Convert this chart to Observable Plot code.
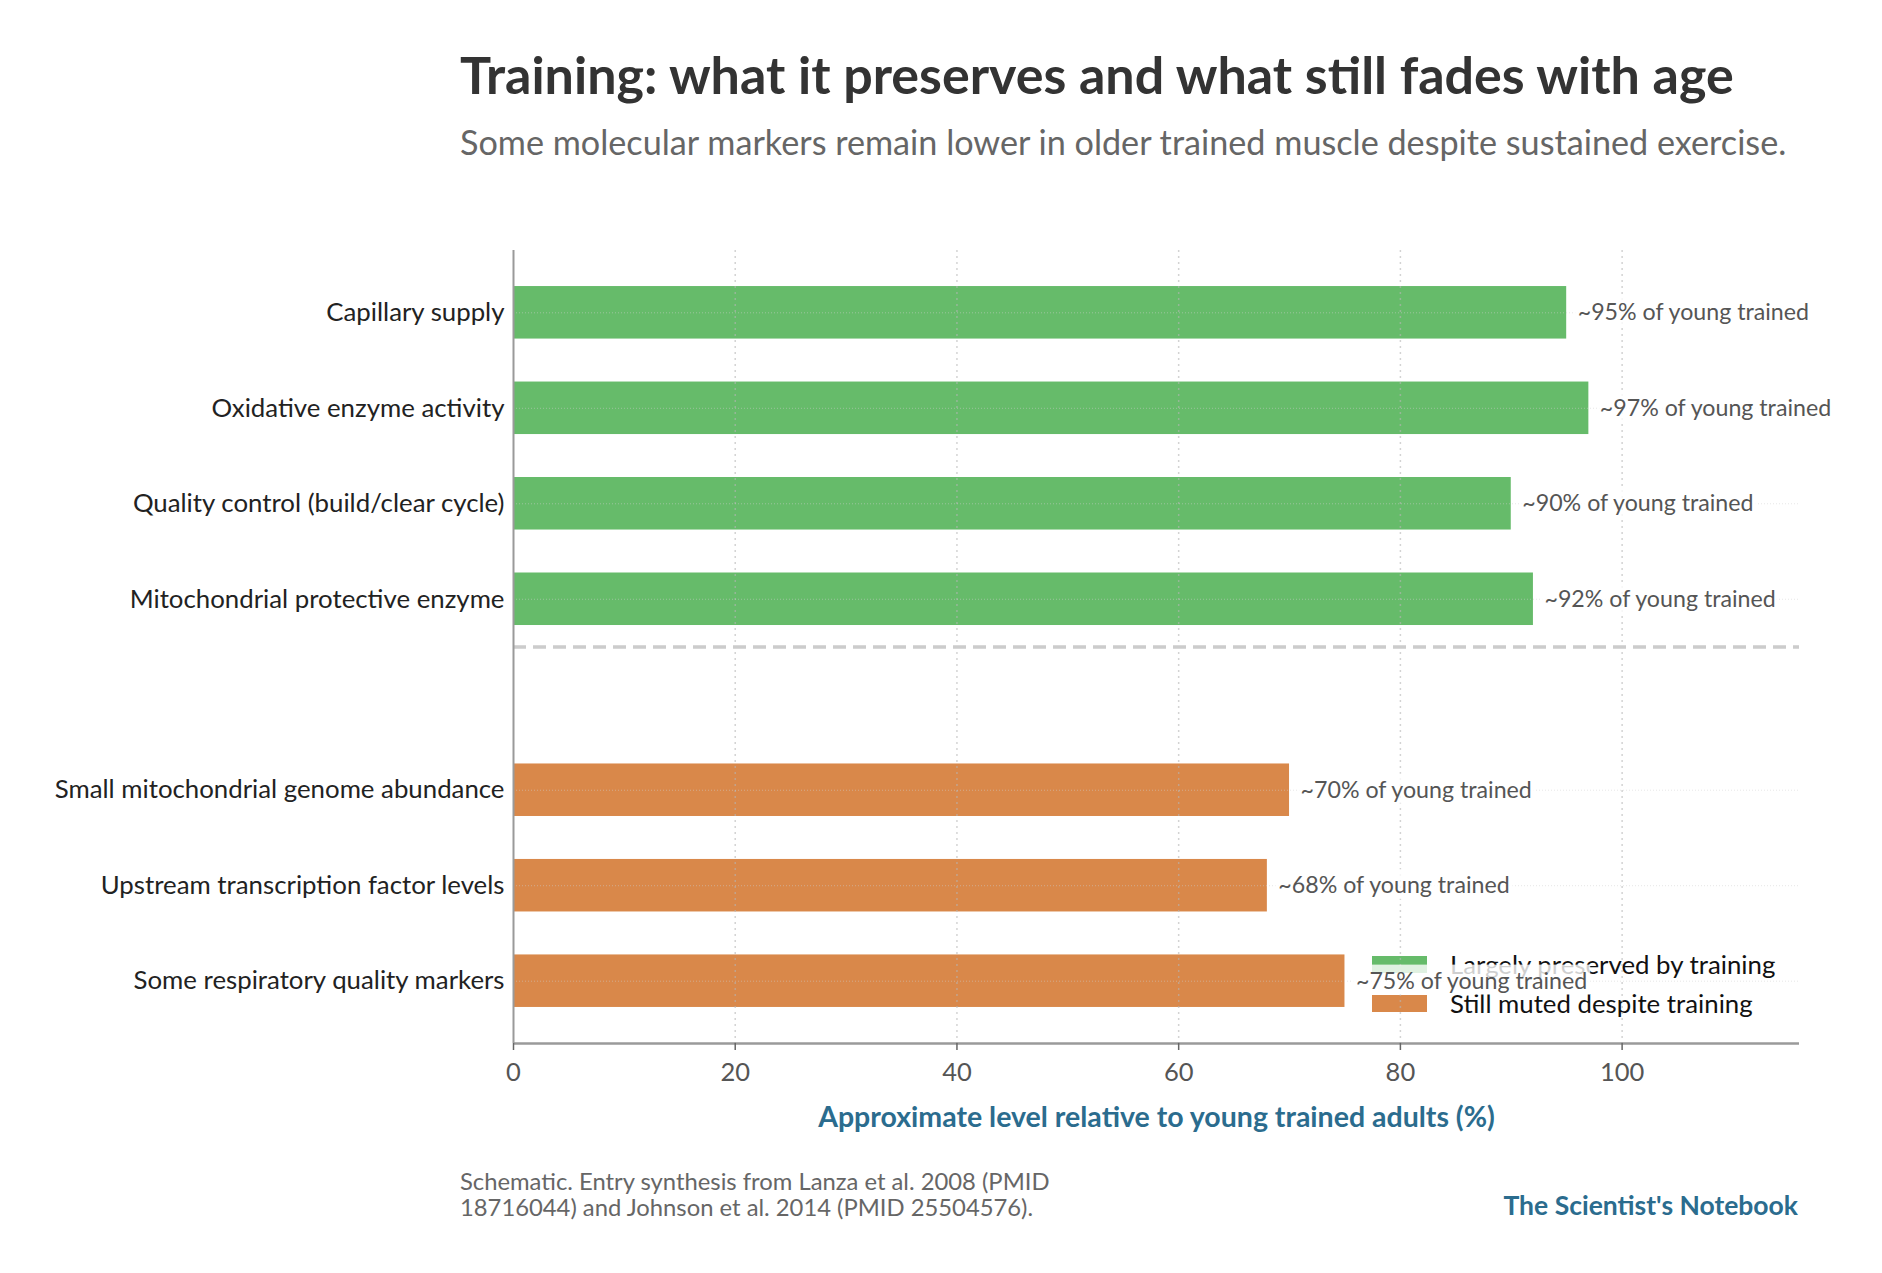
<!DOCTYPE html>
<html>
<head>
<meta charset="utf-8">
<script src="https://cdn.jsdelivr.net/npm/d3@7"></script>
<script src="https://cdn.jsdelivr.net/npm/@observablehq/plot@0.6"></script>
<style>
  html, body { margin: 0; padding: 0; background: #fff; }
  #wrap { position: relative; width: 1882px; height: 1273px; font-family: Lato, "Open Sans", sans-serif; overflow: hidden; }
  .abs { position: absolute; white-space: nowrap; line-height: 1; }
  #title { left: 460px; top: 48px; font-size: 52px; font-weight: bold; color: #333; }
  #subtitle { left: 460px; top: 125px; font-size: 34.2px; color: #666; }
  #chart { position: absolute; left: 0; top: 200px; z-index: 1; }
  #legend { position: absolute; left: 1372px; top: 956px; z-index: 0; }
  .lg-row { display: flex; align-items: center; height: 17px; margin-bottom: 22px; }
  .lg-sw { width: 55px; height: 17px; margin-right: 23px; flex: none; }
  .lg-tx { font-size: 25.8px; color: #111; line-height: 1; white-space: nowrap; }
  .cap { left: 460px; font-size: 23.8px; color: #666; }
  #cap1 { top: 1170px; }
  #cap2 { top: 1196px; }
  #brand { right: 84px; top: 1191.5px; font-size: 26.5px; font-weight: bold; color: #2b6c8e; }
</style>
</head>
<body>
<div id="wrap">
  <div id="title" class="abs">Training: what it preserves and what still fades with age</div>
  <div id="subtitle" class="abs">Some molecular markers remain lower in older trained muscle despite sustained exercise.</div>
  <div id="legend"></div>
  <div id="chart"></div>
  <div id="cap1" class="abs cap">Schematic. Entry synthesis from Lanza et al. 2008 (PMID</div>
  <div id="cap2" class="abs cap">18716044) and Johnson et al. 2014 (PMID 25504576).</div>
  <div id="brand" class="abs">The Scientist's Notebook</div>
</div>
<script>
// ---- data ----
const preservedLabels = [
  "Capillary supply",
  "Oxidative enzyme activity",
  "Quality control (build/clear cycle)",
  "Mitochondrial protective enzyme"
];
const preservedValues = [95, 97, 90, 92];
const mutedLabels = [
  "Small mitochondrial genome abundance",
  "Upstream transcription factor levels",
  "Some respiratory quality markers"
];
const mutedValues = [70, 68, 75];
const groupNames = ["Largely preserved by training", "Still muted despite training"];
const groupColors = ["#66bb6a", "#d9884a"];
const xTicks = [0, 20, 40, 60, 80, 100];
const xMax = 116;
const xLabel = "Approximate level relative to young trained adults (%)";
const labelSuffix = "% of young trained";

// ---- derived table ----
const rows = [
  ...preservedLabels.map((label, i) => ({label, value: preservedValues[i], group: groupNames[0], pos: i})),
  ...mutedLabels.map((label, i) => ({label, value: mutedValues[i], group: groupNames[1], pos: preservedLabels.length + 1 + i}))
];
const barHalf = 0.275;
const yLo = -barHalf, yHi = d3.max(rows, d => d.pos) + barHalf;
const yPad = 0.05 * (yHi - yLo);
const yDomain = [yLo - yPad, yHi + yPad];
const separator = preservedLabels.length - 0.5;

const chart = Plot.plot({
  width: 1882,
  height: 960,
  marginTop: 50,
  marginBottom: 117,
  marginLeft: 513,
  marginRight: 83,
  style: {background: "transparent", fontFamily: "Lato, sans-serif", overflow: "visible"},
  x: {domain: [0, xMax]},
  y: {domain: yDomain, reverse: true},
  color: {domain: groupNames, range: groupColors},
  marks: [
    Plot.rectX(rows, {x1: 0, x2: "value", y1: d => d.pos - barHalf, y2: d => d.pos + barHalf, fill: "group"}),
    Plot.gridX(xTicks.slice(1), {stroke: "#b5b5b5", strokeOpacity: 0.6, strokeWidth: 1.5, strokeDasharray: "2,4"}),
    Plot.ruleY(rows, {y: "pos", stroke: "#cfcfcf", strokeOpacity: 0.5, strokeWidth: 1, strokeDasharray: "1,2"}),
    Plot.ruleY([separator], {stroke: "#cccccc", strokeWidth: 3.5, strokeDasharray: "13,7"}),
    Plot.ruleX([0], {stroke: "#9a9a9a", strokeWidth: 2}),
    Plot.ruleY([yDomain[1]], {stroke: "#9a9a9a", strokeWidth: 2.3}),
    Plot.axisX(xTicks, {tickSize: 7, tickPadding: 12, fontSize: 25.5, fill: "#555", stroke: "#666", strokeWidth: 1.5, label: null, tickFormat: d => String(d)}),
    Plot.axisY(rows.map(d => d.pos), {tickSize: 0, tickPadding: 9, fontSize: 25.8, fill: "#222", label: null,
      tickFormat: p => (rows.find(r => r.pos === p) || {}).label}),
    Plot.text([xLabel], {frameAnchor: "bottom", dy: 83, lineAnchor: "bottom", fontSize: 28.5, fontWeight: "bold", fill: "#2b6c8e"}),
    Plot.text(rows, {x: "value", y: "pos", text: d => `~${d.value}${labelSuffix}`, dx: 11, textAnchor: "start", fontSize: 23.2, fill: "#555"})
  ]
});
document.getElementById("chart").append(chart);

// white semi-transparent boxes behind the value labels
const svgns = "http://www.w3.org/2000/svg";
chart.querySelectorAll("text").forEach(t => {
  if (!t.textContent.endsWith(labelSuffix)) return;
  const b = t.getBBox();
  const r = document.createElementNS(svgns, "rect");
  r.setAttribute("x", b.x - 3);
  r.setAttribute("y", b.y - 1);
  r.setAttribute("width", b.width + 6);
  r.setAttribute("height", b.height + 2);
  r.setAttribute("fill", "white");
  r.setAttribute("fill-opacity", "0.8");
  const tr = t.getAttribute("transform");
  if (tr) r.setAttribute("transform", tr);
  t.parentNode.insertBefore(r, t);
});

// legend
const legend = document.getElementById("legend");
groupNames.forEach((name, i) => {
  const row = document.createElement("div");
  row.className = "lg-row";
  const sw = document.createElement("div");
  sw.className = "lg-sw";
  sw.style.background = groupColors[i];
  const tx = document.createElement("div");
  tx.className = "lg-tx";
  tx.textContent = name;
  row.append(sw, tx);
  legend.append(row);
});
</script>
</body>
</html>
